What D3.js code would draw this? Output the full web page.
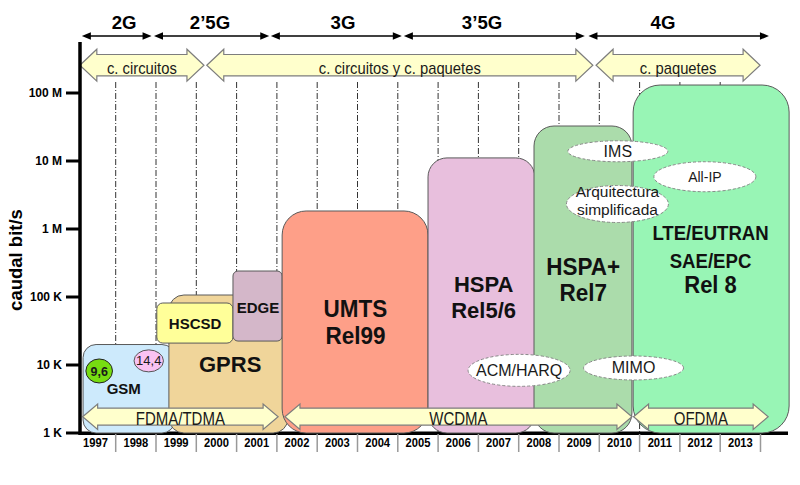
<!DOCTYPE html>
<html><head><meta charset="utf-8">
<script src="https://cdn.jsdelivr.net/npm/d3@7"></script>
<style>
body{margin:0;background:#fff}
svg{display:block}
text{font-family:"Liberation Sans",Arial,Helvetica,sans-serif}
</style>
</head><body>
<svg id="chart" width="800" height="485"></svg>
<script>
// ---------------- DATA ----------------
const years = d3.range(1997, 2014);                 // bottom tick labels
const gridYears = d3.range(1998, 2014);             // dash-dot year boundaries
const rateTicks = [1e3, 1e4, 1e5, 1e6, 1e7, 1e8];
const rateTickLabels = ["1 K", "10 K", "100 K", "1 M", "10 M", "100 M"];
const yTitle = "caudal bit/s";

const generations = ["2G", "2\u20195G", "3G", "3\u20195G", "4G"];
const genStart = [1997.16, 1998.95, 2001.85, 2005.15, 2009.73];
const genEnd   = [1998.89, 2001.81, 2005.10, 2009.64, 2014.21];
const genLabelYear = [1998.21, 2000.34, 2003.64, 2007.09, 2011.58];

const switching = ["c. circuitos", "c. circuitos y c. paquetes", "c. paquetes"];
const switchStart = [1997.11, 2000.26, 2009.92];
const switchEnd   = [2000.19, 2009.84, 2013.99];

const access = ["FDMA/TDMA", "WCDMA", "OFDMA"];
const accessStart = [1997.18, 2002.20, 2010.85];
const accessEnd   = [2002.03, 2010.81, 2014.19];

const techs = [["GSM"], ["GPRS"], ["HSCSD"], ["EDGE"], ["UMTS", "Rel99"],
               ["HSPA", "Rel5/6"], ["HSPA+", "Rel7"], ["LTE/EUTRAN", "SAE/EPC", "Rel 8"]];
const techStart = [1997.19, 1999.32, 1999.02, 2000.91, 2002.13, 2005.75, 2008.38, 2010.84];
const techEnd   = [1999.47, 2002.28, 2000.91, 2002.13, 2005.75, 2008.40, 2010.81, 2014.71];
const techPeak  = [20e3, 107e3, 81.6e3, 241e3, 1.84e6, 11.1e6, 32.7e6, 131e6];
const techFloor = [1e3, 1e3, 21e3, 22.5e3, 1e3, 1e3, 1e3, 1e3];
const techLabelYear = [1998.20, 2000.84, 1999.97, 2001.53, 2003.95, 2007.13, 2009.60, 2012.76];
const techLabelRate = [3.75e3, 7.96e3, 33.5e3, 58.8e3, 51.3e3, 120e3, 211e3, 689e3];

const features = [["9,6"], ["14,4"], ["IMS"], ["All-IP"], ["Arquitectura", "simplificada"], ["ACM/HARQ"], ["MIMO"]];
const featureYear = [1997.59, 1998.82, 2010.46, 2012.62, 2010.45, 2008.01, 2010.85];
const featureRate = [8.17e3, 11.5e3, 13.9e6, 5.87e6, 2.33e6, 8.34e3, 9.04e3];

// ---------------- STYLE ----------------
const techFill = ["#cdeafc", "#f0d59a", "#ffff99", "#d4b7c9", "#fe9f88", "#e8bfdd", "#abdcab", "#98f5b5"];
const techRadius = [13, 15, 6, 5, 24, 19, 20, 27];
const techFont = [[15], [22], [15], [15], [22.5, 22.5], [22, 22], [22.5, 22.5], [18.6, 18.6, 22]];
const techStretch = [[1], [1], [1], [1], [1.03, 1.03], [1.03, 1.03], [1.03, 1.03], [1.13, 1.13, 1.05]];
const techLineOffset = [[0], [0], [0], [0], [0, 27.3], [0, 26.6], [0, 25.7], [0, 28, 53]];

const featRx = [13.3, 14.7, 50, 51, 51, 51, 50];
const featRy = [12, 11, 10.5, 15, 18.5, 16, 12];
const featFill = ["#77dd11", "#f9c2f2", "#fff", "#fff", "#fff", "#fff", "#fff"];
const featStroke = ["#222", "#555", "#888", "#888", "#888", "#888", "#888"];
const featDash = [null, null, "3,2", "3,2", "3,2", "3,2", "3,2"];
const featFont = [12.5, 13, 16, 14, 15.5, 16, 16];
const featBold = [true, false, false, false, false, false, false];
const featLineOffset = [[5], [4.5], [6], [5], [-7.3, 11], [5.5], [5.5]];

// ---------------- SCALES ----------------
const svg = d3.select("#chart");
const x = d3.scaleLinear().domain([1997, 2014]).range([75.4, 760.5]);
const y = d3.scaleLog().domain([1e3, 1e8]).range([433, 93]);

function txt(g, s, px, py, size, opt = {}) {
  return g.append("text")
    .attr("transform", `translate(${px},${py}) scale(${opt.sx || 1},${opt.sy || 1})`)
    .attr("text-anchor", opt.anchor || "middle")
    .attr("font-size", size)
    .attr("font-weight", opt.bold ? "bold" : "normal")
    .attr("fill", opt.fill || "#111")
    .text(s);
}
function blockArrow(x0, x1, cy, hh, bh, hl) {
  return `M${x0},${cy}L${x0 + hl},${cy - hh}L${x0 + hl},${cy - bh}L${x1 - hl},${cy - bh}L${x1 - hl},${cy - hh}L${x1},${cy}` +
         `L${x1 - hl},${cy + hh}L${x1 - hl},${cy + bh}L${x0 + hl},${cy + bh}L${x0 + hl},${cy + hh}Z`;
}

// grid
svg.append("g").selectAll("line").data(gridYears).join("line")
  .attr("x1", d => x(d)).attr("x2", d => x(d))
  .attr("y1", 82).attr("y2", 433)
  .attr("stroke", "#333").attr("stroke-width", 1)
  .attr("stroke-dasharray", "6,2,1,2");

// baseline under boxes
svg.append("line").attr("x1", 79).attr("x2", 788).attr("y1", 433.3).attr("y2", 433.3)
  .attr("stroke", "#000").attr("stroke-width", 3.5);

// technology boxes
const gBox = svg.append("g");
techs.forEach((t, i) => {
  gBox.append("rect")
    .attr("x", x(techStart[i])).attr("y", y(techPeak[i]))
    .attr("width", x(techEnd[i]) - x(techStart[i]))
    .attr("height", y(techFloor[i]) - y(techPeak[i]))
    .attr("rx", techRadius[i]).attr("ry", techRadius[i])
    .attr("fill", techFill[i]).attr("stroke", "#5a5a5a").attr("stroke-width", 1);
});
const gLab = svg.append("g");
techs.forEach((t, i) => {
  t.forEach((line, j) => {
    txt(gLab, line, x(techLabelYear[i]), y(techLabelRate[i]) + techLineOffset[i][j], techFont[i][j],
        { bold: true, sy: techStretch[i][j], fill: "#111" });
  });
});

// feature ellipses
const gFeat = svg.append("g");
features.forEach((f, i) => {
  const cx = x(featureYear[i]), cy = y(featureRate[i]);
  const e = gFeat.append("ellipse").attr("cx", cx).attr("cy", cy)
    .attr("rx", featRx[i]).attr("ry", featRy[i])
    .attr("fill", featFill[i]).attr("stroke", featStroke[i]).attr("stroke-width", 1);
  if (featDash[i]) e.attr("stroke-dasharray", featDash[i]);
  f.forEach((line, j) => {
    txt(gFeat, line, cx, cy + featLineOffset[i][j], featFont[i], { bold: featBold[i], fill: "#1a1a1a" });
  });
});

// access arrows (bottom)
const gAcc = svg.append("g");
access.forEach((a, i) => {
  const x0 = x(accessStart[i]), x1 = x(accessEnd[i]);
  gAcc.append("path").attr("d", blockArrow(x0, x1, 416.7, 12.7, 8.5, 15))
    .attr("fill", "#ffffcc").attr("stroke", "#7d7d7d").attr("stroke-width", 1.2);
  txt(gAcc, a, (x0 + x1) / 2, 425, 15, { sy: 1.17, fill: "#1a1a1a" });
});

// switching arrows (top)
const gSw = svg.append("g");
switching.forEach((s, i) => {
  const x0 = x(switchStart[i]), x1 = x(switchEnd[i]);
  gSw.append("path").attr("d", blockArrow(x0, x1, 65.2, 16, 10.7, 17))
    .attr("fill", "#ffffcc").attr("stroke", "#7d7d7d").attr("stroke-width", 1.2);
  txt(gSw, s, (x0 + x1) / 2, 74, 14.8, { sy: 1.15, fill: "#1a1a1a" });
});

// generation arrows
const gGen = svg.append("g");
generations.forEach((g, i) => {
  const x0 = x(genStart[i]), x1 = x(genEnd[i]), cy = 36;
  gGen.append("line").attr("x1", x0 + 4).attr("x2", x1 - 4).attr("y1", cy).attr("y2", cy)
    .attr("stroke", "#000").attr("stroke-width", 1.5);
  gGen.append("path").attr("d", `M${x0},${cy}L${x0 + 9},${cy - 3.8}L${x0 + 9},${cy + 3.8}Z`).attr("fill", "#000");
  gGen.append("path").attr("d", `M${x1},${cy}L${x1 - 9},${cy - 3.8}L${x1 - 9},${cy + 3.8}Z`).attr("fill", "#000");
  txt(gGen, g, x(genLabelYear[i]), 29.3, 18.6, { bold: true, fill: "#000" });
});

// y axis
const gAx = svg.append("g");
gAx.append("line").attr("x1", 80).attr("x2", 80).attr("y1", 42).attr("y2", 435)
  .attr("stroke", "#000").attr("stroke-width", 3.5);
rateTicks.forEach((v, i) => {
  gAx.append("line").attr("x1", 66).attr("x2", 80).attr("y1", y(v)).attr("y2", y(v))
    .attr("stroke", "#000").attr("stroke-width", 3);
  txt(gAx, rateTickLabels[i], 62, y(v) + 4, 12, { bold: true, anchor: "end", fill: "#000" });
});
gAx.append("text")
  .attr("transform", `translate(22,260) rotate(-90)`)
  .attr("text-anchor", "middle").attr("font-size", 18.5).attr("font-weight", "bold")
  .attr("fill", "#000").text(yTitle);

// x axis labels
const gYr = svg.append("g");
years.forEach(yr => {
  gYr.append("line").attr("x1", x(yr + 1)).attr("x2", x(yr + 1)).attr("y1", 434).attr("y2", 452)
    .attr("stroke", "#999").attr("stroke-width", 1.5);
  txt(gYr, String(yr), x(yr + 0.5), 446.5, 11.2, { bold: true, sy: 1.15, fill: "#000" });
});
</script>
</body></html>
